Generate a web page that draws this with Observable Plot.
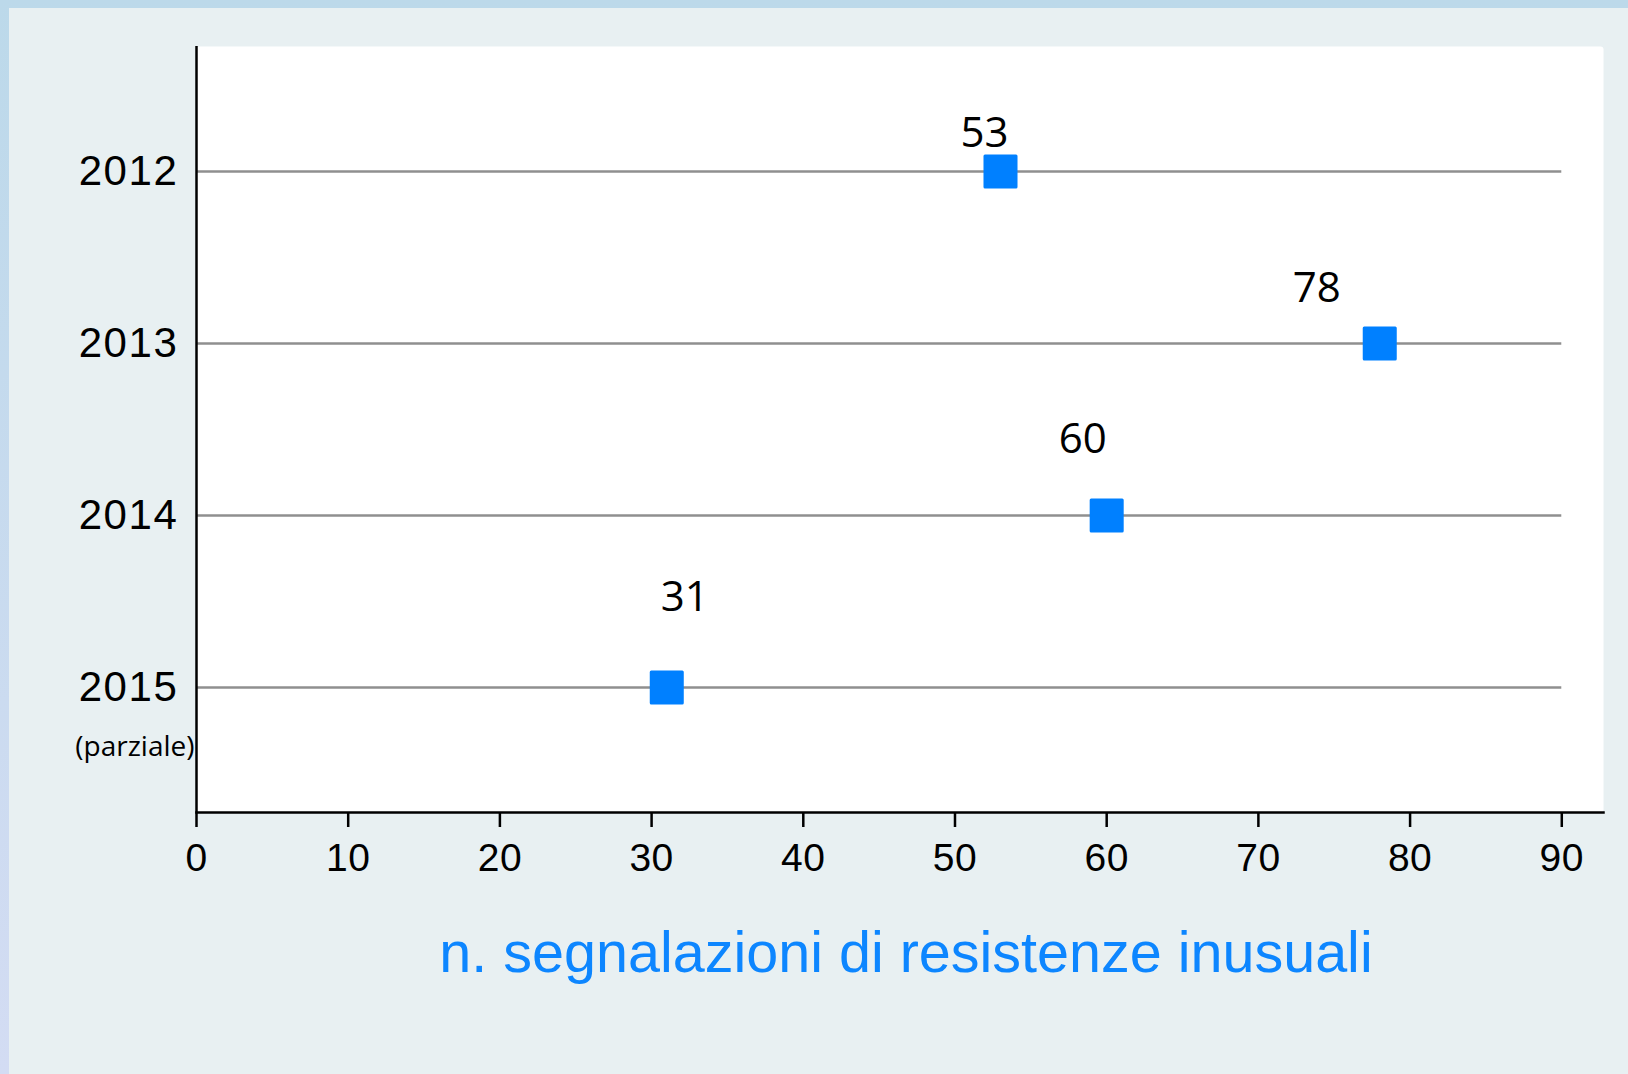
<!DOCTYPE html>
<html><head><meta charset="utf-8">
<script src="https://cdn.jsdelivr.net/npm/d3@7"></script>
<script src="https://cdn.jsdelivr.net/npm/@observablehq/plot@0.6"></script>
<style>
html,body{margin:0;padding:0;width:1628px;height:1074px;overflow:hidden;}
body{background:linear-gradient(#bcd9ea,#d3dcf3);position:relative;}
#panel{position:absolute;left:9px;top:8px;right:0;bottom:0;background:#e8f0f2;}
#chart{position:absolute;left:0;top:0;}
g[aria-label="y-axis tick label"] text{letter-spacing:1.6px;}
g[aria-label="x-axis tick label"] text{letter-spacing:0.5px;}
</style></head><body><div id="panel"></div><div id="chart"></div>
<script>
const years = ["2012", "2013", "2014", "2015"];
const counts = [53, 78, 60, 31];
const yearNotes = ["", "", "", "(parziale)"];
const xTicks = [0, 10, 20, 30, 40, 50, 60, 70, 80, 90];
const axisTitle = "n. segnalazioni di resistenze inusuali";

const data = years.map((y, i) => ({year: y, count: counts[i], note: yearNotes[i]}));

// per-label offsets (styling only), keyed by year
const labelShift = {"2012": [-16, -38], "2013": [-63, -55], "2014": [-24, -76], "2015": [18, -90]};

const blue = "#0080ff";

const plot = Plot.plot({
  width: 1628,
  height: 1074,
  marginLeft: 196,
  marginRight: 25,
  marginTop: 46,
  marginBottom: 262,
  style: {background: "transparent", fontFamily: "'Liberation Sans', Arial, sans-serif", color: "black", overflow: "visible"},
  x: {domain: [0, 92.75]},
  y: {type: "point", domain: years, padding: 0.718},
  marks: [
    Plot.frame({fill: "white", stroke: null, rx: 3}),
    Plot.ruleY(data, {y: "year", x1: 0, x2: 90, stroke: "#8f8f8f", strokeWidth: 2.5}),
    Plot.ruleX([0], {stroke: "black", strokeWidth: 2.5}),
    Plot.frame({anchor: "bottom", stroke: "black", strokeWidth: 2.5}),
    Plot.axisX({ticks: xTicks, tickSize: 15, tickPadding: 16, fontSize: 39, label: null, strokeWidth: 2.5}),
    Plot.axisY({tickSize: 0, tickPadding: 18, fontSize: 42, label: null}),
    Plot.text(data.filter(d => d.note), {x: () => 0, y: "year", text: "note", textAnchor: "end", dx: -2, dy: 60, fontSize: 28, fontFamily: "'Open Sans', sans-serif", fill: "black"}),
    Plot.dot(data, {x: "count", y: "year", symbol: "square", r: 17.5, fill: blue, stroke: blue, strokeWidth: 3, strokeLinejoin: "round"}),
    ...years.map(yr => Plot.text(data.filter(d => d.year === yr), {
      x: "count", y: "year", text: d => String(d.count),
      dx: labelShift[yr][0], dy: labelShift[yr][1],
      fontSize: 42, fontFamily: "'Open Sans', sans-serif", fill: "black", textAnchor: "middle"
    })),
    Plot.text([axisTitle], {frameAnchor: "bottom", text: d => d, dx: 6, dy: 141, fontSize: 57.5, fill: "#0d86ff", textAnchor: "middle", lineAnchor: "middle"})
  ]
});
document.getElementById("chart").appendChild(plot);
</script>
</body></html>
